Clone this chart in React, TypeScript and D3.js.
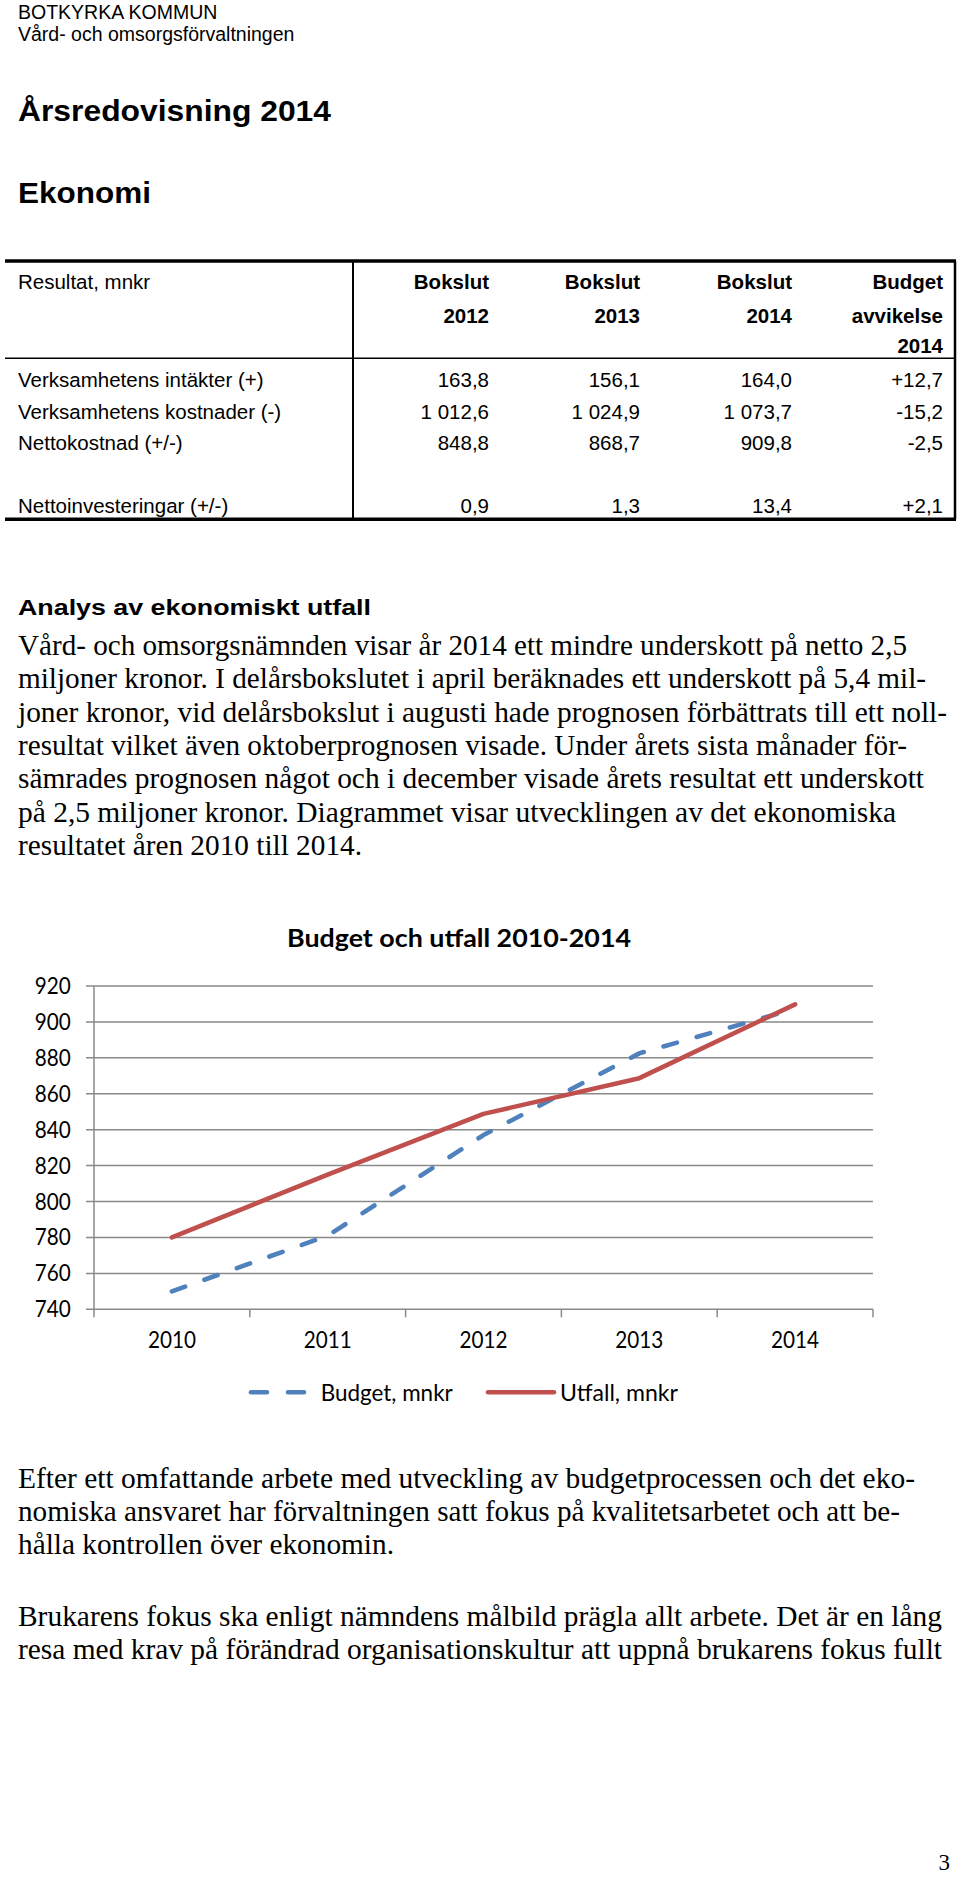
import React from 'react';
import * as d3 from 'd3';

// ---------- data ----------
const headerLines = ['BOTKYRKA KOMMUN', 'Vård- och omsorgsförvaltningen'];
const docTitle = 'Årsredovisning 2014';
const sectionTitle = 'Ekonomi';

const tableCorner = 'Resultat, mnkr';
const colHeadLine1 = ['Bokslut', 'Bokslut', 'Bokslut', 'Budget'];
const colHeadLine2 = ['2012', '2013', '2014', 'avvikelse'];
const colHeadLine3 = ['', '', '', '2014'];
const rowLabels = [
  'Verksamhetens intäkter (+)',
  'Verksamhetens kostnader (-)',
  'Nettokostnad (+/-)',
  'Nettoinvesteringar (+/-)',
];
const col2012 = ['163,8', '1 012,6', '848,8', '0,9'];
const col2013 = ['156,1', '1 024,9', '868,7', '1,3'];
const col2014 = ['164,0', '1 073,7', '909,8', '13,4'];
const colAvvikelse = ['+12,7', '-15,2', '-2,5', '+2,1'];

const analysHeading = 'Analys av ekonomiskt utfall';
const paragraph1 = [
  'Vård- och omsorgsnämnden visar år 2014 ett mindre underskott på netto 2,5',
  'miljoner kronor. I delårsbokslutet i april beräknades ett underskott på 5,4 mil-',
  'joner kronor, vid delårsbokslut i augusti hade prognosen förbättrats till ett noll-',
  'resultat vilket även oktoberprognosen visade. Under årets sista månader för-',
  'sämrades prognosen något och i december visade årets resultat ett underskott',
  'på 2,5 miljoner kronor. Diagrammet visar utvecklingen av det ekonomiska',
  'resultatet åren 2010 till 2014.',
];

const chartTitle = 'Budget och utfall 2010-2014';
const years = ['2010', '2011', '2012', '2013', '2014'];
const budget = [750, 781, 837, 882.5, 907.3];
const utfall = [780, 815, 848.8, 868.7, 909.8];
const yTicks = [740, 760, 780, 800, 820, 840, 860, 880, 900, 920];
const seriesNames = ['Budget, mnkr', 'Utfall, mnkr'];

const paragraph2 = [
  'Efter ett omfattande arbete med utveckling av budgetprocessen och det eko-',
  'nomiska ansvaret har förvaltningen satt fokus på kvalitetsarbetet och att be-',
  'hålla kontrollen över ekonomin.',
];
const paragraph3 = [
  'Brukarens fokus ska enligt nämndens målbild prägla allt arbete. Det är en lång',
  'resa med krav på förändrad organisationskultur att uppnå brukarens fokus fullt',
];
const pageNumber = '3';

// ---------- layout ----------
const SANS = "'Liberation Sans', Arial, sans-serif";
const SERIF = "'Liberation Serif', 'Times New Roman', serif";
const CHART_FONT = "Lato, 'Open Sans', sans-serif";

const p1Widths = [889, 908, 929, 889, 906, 878, 344];
const p1Base = 655;
const p2Widths = [897, 882, 376];
const p2Base = [1488, 1521, 1554];
const p3Widths = [924, 924];
const p3Base = [1626, 1659];
const LINE_H = 33.3;

const colRight = [489, 640, 792, 943];
const rowBase = [387, 418.5, 450, 513];

const BLUE = '#4F81BD';
const RED = '#C0504D';
const GRID = '#8a8a8a';

export default function App() {
  const x = d3.scaleBand<string>().domain(years).range([94, 873]).padding(0);
  const y = d3.scaleLinear().domain([740, 920]).range([1309.3, 986]);
  const cx = (i: number) => (x(years[i]) as number) + x.bandwidth() / 2;
  const line = d3
    .line<number>()
    .x((_, i) => cx(i))
    .y((d) => y(d));

  const tableCols = [col2012, col2013, col2014, colAvvikelse];
  const boundaries = [...years.map((yr) => x(yr) as number), x.range()[1]];

  return (
    <svg
      width={960}
      height={1878}
      style={{ position: 'absolute', left: 0, top: 0, display: 'block', background: '#fff' }}
    >
      <rect x={0} y={0} width={960} height={1878} fill="#fff" />

      {/* Header */}
      <text x={18} y={18.5} fontFamily={SANS} fontSize={19.5} fill="#000">
        {headerLines[0]}
      </text>
      <text x={18} y={40.7} fontFamily={SANS} fontSize={19.5} fill="#000">
        {headerLines[1]}
      </text>
      <text
        x={18}
        y={120.7}
        fontFamily={SANS}
        fontSize={29}
        fontWeight="bold"
        textLength={313}
        lengthAdjust="spacingAndGlyphs"
      >
        {docTitle}
      </text>
      <text
        x={18}
        y={202.7}
        fontFamily={SANS}
        fontSize={29}
        fontWeight="bold"
        textLength={133}
        lengthAdjust="spacingAndGlyphs"
      >
        {sectionTitle}
      </text>

      {/* Table */}
      <g fontFamily={SANS} fontSize={20.5} fill="#000">
        <line x1={5} x2={956} y1={261} y2={261} stroke="#000" strokeWidth={3.3} />
        <line x1={5} x2={956} y1={358.3} y2={358.3} stroke="#000" strokeWidth={1.5} />
        <line x1={5} x2={956} y1={519.3} y2={519.3} stroke="#000" strokeWidth={3.5} />
        <line x1={353} x2={353} y1={261} y2={519.3} stroke="#000" strokeWidth={2} />
        <line x1={955} x2={955} y1={261} y2={519.3} stroke="#000" strokeWidth={2.5} />

        <text x={18} y={289.3}>{tableCorner}</text>
        {colHeadLine1.map((t, i) => (
          <text key={'h1' + i} x={colRight[i]} y={289.3} textAnchor="end" fontWeight="bold">
            {t}
          </text>
        ))}
        {colHeadLine2.map((t, i) => (
          <text key={'h2' + i} x={colRight[i]} y={322.7} textAnchor="end" fontWeight="bold">
            {t}
          </text>
        ))}
        {colHeadLine3.map((t, i) => (
          <text key={'h3' + i} x={colRight[i]} y={353.3} textAnchor="end" fontWeight="bold">
            {t}
          </text>
        ))}
        {rowLabels.map((t, r) => (
          <text key={'rl' + r} x={18} y={rowBase[r]}>
            {t}
          </text>
        ))}
        {tableCols.map((col, c) =>
          col.map((v, r) => (
            <text key={'v' + c + '-' + r} x={colRight[c]} y={rowBase[r]} textAnchor="end">
              {v}
            </text>
          ))
        )}
      </g>

      {/* Analysis */}
      <text
        x={18}
        y={615}
        fontFamily={SANS}
        fontSize={22}
        fontWeight="bold"
        textLength={353}
        lengthAdjust="spacingAndGlyphs"
      >
        {analysHeading}
      </text>
      <g fontFamily={SERIF} fontSize={28.5} fill="#000">
        {paragraph1.map((t, i) => (
          <text
            key={'p1' + i}
            x={18}
            y={p1Base + i * LINE_H}
            textLength={p1Widths[i]}
            lengthAdjust="spacingAndGlyphs"
          >
            {t}
          </text>
        ))}
      </g>

      {/* Chart */}
      <text
        x={459}
        y={946.7}
        textAnchor="middle"
        fontFamily={CHART_FONT}
        fontWeight="bold"
        fontSize={24}
        textLength={344}
        lengthAdjust="spacingAndGlyphs"
      >
        {chartTitle}
      </text>
      <g>
        {yTicks.map((t) => (
          <line
            key={'g' + t}
            x1={86}
            x2={873}
            y1={y(t)}
            y2={y(t)}
            stroke={GRID}
            strokeWidth={1.5}
          />
        ))}
        <line x1={94} x2={94} y1={y(920)} y2={y(740)} stroke={GRID} strokeWidth={1.5} />
        {boundaries.map((b, i) => (
          <line
            key={'xt' + i}
            x1={b}
            x2={b}
            y1={y(740)}
            y2={y(740) + 8}
            stroke={GRID}
            strokeWidth={1.5}
          />
        ))}
        {yTicks.map((t) => (
          <text
            key={'yl' + t}
            x={70.7}
            y={y(t) + 8}
            textAnchor="end"
            fontFamily={CHART_FONT}
            fontSize={23}
            textLength={36}
            lengthAdjust="spacingAndGlyphs"
            fill="#000"
          >
            {t}
          </text>
        ))}
        {years.map((yr, i) => (
          <text
            key={'xl' + yr}
            x={cx(i)}
            y={1348}
            textAnchor="middle"
            fontFamily={CHART_FONT}
            fontSize={22.5}
            textLength={48}
            lengthAdjust="spacingAndGlyphs"
            fill="#000"
          >
            {yr}
          </text>
        ))}
        <path
          d={line(budget) || ''}
          fill="none"
          stroke={BLUE}
          strokeWidth={4.6}
          strokeDasharray="14 20.5"
          strokeLinecap="round"
          strokeLinejoin="round"
        />
        <path
          d={line(utfall) || ''}
          fill="none"
          stroke={RED}
          strokeWidth={4.6}
          strokeLinecap="round"
          strokeLinejoin="round"
        />
        {/* Legend */}
        <line
          x1={251}
          x2={304}
          y1={1392.3}
          y2={1392.3}
          stroke={BLUE}
          strokeWidth={4.6}
          strokeDasharray="16 21"
          strokeLinecap="round"
        />
        <text
          x={320.7}
          y={1401}
          fontFamily={CHART_FONT}
          fontSize={22.5}
          textLength={132}
          lengthAdjust="spacingAndGlyphs"
        >
          {seriesNames[0]}
        </text>
        <line
          x1={488}
          x2={554}
          y1={1392.3}
          y2={1392.3}
          stroke={RED}
          strokeWidth={4.6}
          strokeLinecap="round"
        />
        <text
          x={560}
          y={1401}
          fontFamily={CHART_FONT}
          fontSize={22.5}
          textLength={118}
          lengthAdjust="spacingAndGlyphs"
        >
          {seriesNames[1]}
        </text>
      </g>

      {/* Lower paragraphs */}
      <g fontFamily={SERIF} fontSize={28.5} fill="#000">
        {paragraph2.map((t, i) => (
          <text
            key={'p2' + i}
            x={18}
            y={p2Base[i]}
            textLength={p2Widths[i]}
            lengthAdjust="spacingAndGlyphs"
          >
            {t}
          </text>
        ))}
        {paragraph3.map((t, i) => (
          <text
            key={'p3' + i}
            x={18}
            y={p3Base[i]}
            textLength={p3Widths[i]}
            lengthAdjust="spacingAndGlyphs"
          >
            {t}
          </text>
        ))}
      </g>
      <text x={950} y={1870} textAnchor="end" fontFamily={SERIF} fontSize={23}>
        {pageNumber}
      </text>
    </svg>
  );
}
